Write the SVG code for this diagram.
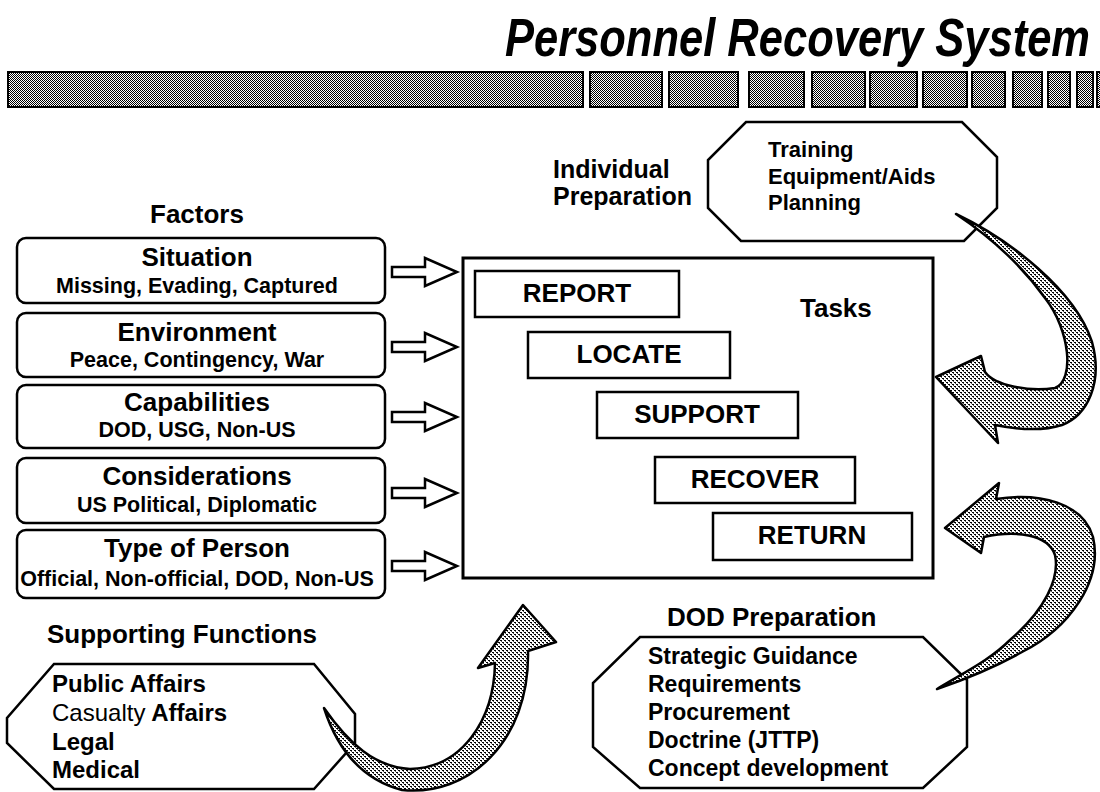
<svg xmlns="http://www.w3.org/2000/svg" width="1100" height="792" viewBox="0 0 1100 792">
<defs>
<pattern id="hatch" width="2" height="2" patternUnits="userSpaceOnUse">
<rect width="2" height="2" fill="#fff"/>
<rect x="0" y="0" width="1" height="1" fill="#000"/>
<rect x="1" y="1" width="1" height="1" fill="#000"/>
</pattern>
<pattern id="hatch2" width="4" height="4" patternUnits="userSpaceOnUse">
<rect width="4" height="4" fill="#fff"/>
<rect x="0" y="0" width="2" height="1" fill="#000"/>
<rect x="2" y="2" width="2" height="1" fill="#000"/>
<rect x="1" y="1" width="1" height="1" fill="#555"/>
<rect x="3" y="3" width="1" height="1" fill="#555"/>
</pattern>
<style>
text{font-family:"Liberation Sans",Arial,sans-serif;font-weight:bold;fill:#000}
.title{font-size:43.5px;font-style:italic}
.fh{font-size:26px;text-anchor:middle}
.fs{font-size:21.5px;text-anchor:middle}
.lbl{font-size:26px}
.lst{font-size:22px}
.lstr{font-size:23px}
.lstl{font-size:24px}
.task{font-size:26px;text-anchor:middle}
.box{fill:#fff;stroke:#000;stroke-width:2.5}
.bar{fill:url(#hatch);stroke:#000;stroke-width:2}
.blk{fill:#fff;stroke:#000;stroke-width:2.5;stroke-linejoin:miter}
.curve{fill:url(#hatch2);stroke:#000;stroke-width:2.5;stroke-linejoin:round}
</style>
</defs>
<rect width="1100" height="792" fill="#fff"/>

<g id="title">
<text class="title" x="505" y="45.5" transform="scale(1,1.22)">Personnel Recovery System</text>
</g>

<g id="bar">
<rect class="bar" x="8" y="72" width="575" height="35"/>
<rect class="bar" x="590" y="72" width="72" height="35"/>
<rect class="bar" x="669" y="72" width="69" height="35"/>
<rect class="bar" x="749" y="72" width="55" height="35"/>
<rect class="bar" x="812" y="72" width="53" height="35"/>
<rect class="bar" x="870" y="72" width="47" height="35"/>
<rect class="bar" x="923" y="72" width="44" height="35"/>
<rect class="bar" x="972" y="72" width="33" height="35"/>
<rect class="bar" x="1013" y="72" width="29" height="35"/>
<rect class="bar" x="1048" y="72" width="22" height="35"/>
<rect class="bar" x="1077" y="72" width="16" height="35"/>
<rect class="bar" x="1097" y="72" width="8" height="35"/>
</g>

<g id="individual-preparation">
<text class="lbl" x="553" y="178" style="font-size:25px">Individual</text>
<text class="lbl" x="553" y="205" style="font-size:25px">Preparation</text>
<polygon class="box" points="746,122 962,122 997,157 997,208 964,241 741,241 708,208 708,160"/>
<text class="lst" x="768" y="157">Training</text>
<text class="lst" x="768" y="184">Equipment/Aids</text>
<text class="lst" x="768" y="210">Planning</text>
</g>

<g id="factors-label"><text class="lbl" x="197" y="223" text-anchor="middle">Factors</text></g>

<g id="situation">
<rect class="box" x="17" y="238" width="368" height="65" rx="9"/>
<text class="fh" x="197" y="266">Situation</text>
<text class="fs" x="197" y="293">Missing, Evading, Captured</text>
</g>
<g id="environment">
<rect class="box" x="17" y="313" width="368" height="64" rx="9"/>
<text class="fh" x="197" y="341">Environment</text>
<text class="fs" x="197" y="367">Peace, Contingency, War</text>
</g>
<g id="capabilities">
<rect class="box" x="17" y="385" width="368" height="63" rx="9"/>
<text class="fh" x="197" y="411">Capabilities</text>
<text class="fs" x="197" y="437">DOD, USG, Non-US</text>
</g>
<g id="considerations">
<rect class="box" x="17" y="458" width="368" height="65" rx="9"/>
<text class="fh" x="197" y="485">Considerations</text>
<text class="fs" x="197" y="512">US Political, Diplomatic</text>
</g>
<g id="type-of-person">
<rect class="box" x="17" y="530" width="368" height="68" rx="9"/>
<text class="fh" x="197" y="557">Type of Person</text>
<text class="fs" x="197" y="586">Official, Non-official, DOD, Non-US</text>
</g>

<g id="tasks">
<rect x="463" y="258" width="470" height="320" fill="#fff" stroke="#000" stroke-width="3"/>
<text class="lbl" x="800" y="317">Tasks</text>
<g id="report"><rect class="box" x="475" y="271" width="204" height="46"/><text class="task" x="577" y="302">REPORT</text></g>
<g id="locate"><rect class="box" x="528" y="332" width="202" height="46"/><text class="task" x="629" y="363">LOCATE</text></g>
<g id="support"><rect class="box" x="597" y="392" width="201" height="46"/><text class="task" x="697" y="423">SUPPORT</text></g>
<g id="recover"><rect class="box" x="655" y="457" width="200" height="46"/><text class="task" x="755" y="488">RECOVER</text></g>
<g id="return"><rect class="box" x="713" y="513" width="199" height="47"/><text class="task" x="812" y="544">RETURN</text></g>
</g>

<g id="supporting-functions">
<text class="lbl" x="47" y="643">Supporting Functions</text>
<polygon class="box" points="54,664 314,664 355,714 355,743 314,789 54,789 7,743 7,718"/>
<text class="lstl" x="52" y="692">Public  Affairs</text>
<text class="lstl" x="52" y="721"><tspan style="font-weight:normal">Casualty</tspan> Affairs</text>
<text class="lstl" x="52" y="750">Legal</text>
<text class="lstl" x="52" y="778">Medical</text>
</g>

<g id="dod-preparation">
<text class="lbl" x="667" y="626">DOD Preparation</text>
<polygon class="box" points="640,637 923,637 967,680 967,747 923,788 640,788 593,747 593,683"/>
<text class="lstr" x="648" y="664">Strategic  Guidance</text>
<text class="lstr" x="648" y="692">Requirements</text>
<text class="lstr" x="648" y="720">Procurement</text>
<text class="lstr" x="648" y="748">Doctrine  (JTTP)</text>
<text class="lstr" x="648" y="776">Concept  development</text>
</g>

<g id="connectors">
<path class="blk" d="M392,267 L425,267 L425,258 L457,272 L425,286 L425,277 L392,277 Z"/>
<path class="blk" d="M392,342 L425,342 L425,333 L457,347 L425,361 L425,352 L392,352 Z"/>
<path class="blk" d="M392,412 L425,412 L425,403 L457,417 L425,431 L425,422 L392,422 Z"/>
<path class="blk" d="M392,488 L425,488 L425,479 L457,493 L425,507 L425,498 L392,498 Z"/>
<path class="blk" d="M392,561 L425,561 L425,552 L457,566 L425,580 L425,571 L392,571 Z"/>
<path class="curve" d="M956,214 C1010,240 1075,290 1092,342 C1103,382 1088,415 1062,425 C1040,432 1015,429 995,425 L998,443 L936,377 L981,356 L985,372 C995,386 1030,392 1055,388 C1075,380 1070,330 1045,298 C1025,270 995,240 956,214 Z"/>
<path class="curve" d="M945,528 L999,483 L996,499 C1040,492 1083,503 1093,537 C1103,580 1070,628 1022,652 C997,666 966,679 937,689 C965,672 990,660 1010,640 C1045,610 1060,578 1055,555 C1048,534 1015,530 984,537 L981,553 Z"/>
<path class="curve" d="M324,708 C335,742 356,778 402,790 C468,797 530,742 528,651 L556,642 L523,605 L478,668 L495,663 C494,720 462,768 410,769 C375,767 349,744 324,708 Z"/>
</g>
</svg>
